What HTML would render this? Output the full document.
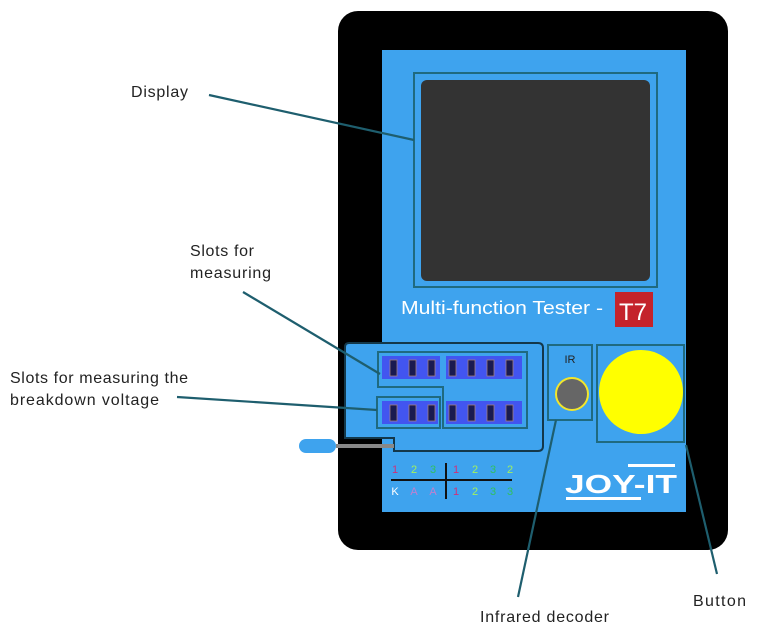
<!DOCTYPE html>
<html><head><meta charset="utf-8"><style>
html,body{margin:0;padding:0;background:#fff;}
svg{display:block;}
</style></head><body>
<svg width="768" height="630" viewBox="0 0 768 630" xmlns="http://www.w3.org/2000/svg" font-family="Liberation Sans, sans-serif">
<rect x="338" y="11" width="390" height="539" rx="20" fill="#000"/>
<rect x="382" y="50" width="304" height="462" fill="#3ea3ee"/>
<rect x="414" y="73" width="243" height="214" fill="none" stroke="#1f6a80" stroke-width="2"/>
<rect x="421" y="80" width="229" height="201" rx="6" fill="#333"/>
<text x="401" y="314" font-size="18" fill="#fff" textLength="202" lengthAdjust="spacingAndGlyphs">Multi-function Tester -</text>
<rect x="615" y="292" width="38" height="35" fill="#c4232b"/>
<text x="619" y="320" font-size="24" fill="#fff">T7</text>
<!-- slot panel -->
<path d="M349,343 H538 Q543,343 543,348 V446 Q543,451 538,451 H394 V438 H345 V347 Q345,343 349,343 Z" fill="#3ea3ee" stroke="#14384a" stroke-width="2"/>
<path d="M378,352 H527 V428 H443 V387 H378 Z" fill="none" stroke="#1f6a80" stroke-width="2"/>
<rect x="377" y="397" width="63" height="31" fill="none" stroke="#1f6a80" stroke-width="2"/>
<rect x="382" y="356" width="58" height="23" fill="#4255f0"/>
<rect x="446" y="356" width="76" height="23" fill="#4255f0"/>
<rect x="382" y="401" width="56" height="23" fill="#4255f0"/>
<rect x="446" y="401" width="76" height="23" fill="#4255f0"/>
<g fill="#1a1a50" stroke="#a08080" stroke-width="0.8">
<rect x="390" y="360" width="7" height="16"/><rect x="409" y="360" width="7" height="16"/><rect x="428" y="360" width="7" height="16"/>
<rect x="449" y="360" width="7" height="16"/><rect x="468" y="360" width="7" height="16"/><rect x="487" y="360" width="7" height="16"/><rect x="506" y="360" width="7" height="16"/>
<rect x="390" y="405" width="7" height="16"/><rect x="409" y="405" width="7" height="16"/><rect x="428" y="405" width="7" height="16"/>
<rect x="449" y="405" width="7" height="16"/><rect x="468" y="405" width="7" height="16"/><rect x="487" y="405" width="7" height="16"/><rect x="506" y="405" width="7" height="16"/>
</g>
<!-- wire -->
<rect x="299" y="439" width="37" height="14" rx="7" fill="#3ea3ee"/>
<rect x="336" y="444" width="58" height="4" fill="#888"/>
<!-- IR -->
<rect x="548" y="345" width="44" height="75" fill="none" stroke="#1f6a80" stroke-width="2"/>
<text x="570" y="363" font-size="11" fill="#222" text-anchor="middle">IR</text>
<circle cx="572" cy="394" r="16" fill="#666" stroke="#f2e62b" stroke-width="2"/>
<!-- button -->
<rect x="597" y="345" width="87" height="97" fill="none" stroke="#1f6a80" stroke-width="2"/>
<circle cx="641" cy="392" r="42" fill="#ffff00"/>
<!-- numbers -->
<line x1="391" y1="480" x2="512" y2="480" stroke="#111" stroke-width="2"/>
<line x1="446" y1="463" x2="446" y2="499" stroke="#111" stroke-width="2"/>
<g font-size="11" text-anchor="middle">
<text x="395" y="473" fill="#d0307a">1</text><text x="414" y="473" fill="#a0f060">2</text><text x="433" y="473" fill="#30c060">3</text>
<text x="456" y="473" fill="#d0307a">1</text><text x="475" y="473" fill="#a0f060">2</text><text x="493" y="473" fill="#30c060">3</text><text x="510" y="473" fill="#a0f060">2</text>
<text x="395" y="495" fill="#fff">K</text><text x="414" y="495" fill="#c080d0">A</text><text x="433" y="495" fill="#c080d0">A</text>
<text x="456" y="495" fill="#d0307a">1</text><text x="475" y="495" fill="#a0f060">2</text><text x="493" y="495" fill="#30c060">3</text><text x="510" y="495" fill="#30c060">3</text>
</g>
<!-- logo -->
<rect x="628" y="464" width="47" height="3" fill="#fff"/>
<text x="565" y="493" font-size="26" font-weight="bold" fill="#fff" textLength="112" lengthAdjust="spacingAndGlyphs">JOY-IT</text>
<rect x="566" y="497" width="75" height="3" fill="#fff"/>
<!-- leader lines -->
<g stroke="#1e5e6e" stroke-width="2.2" fill="none">
<line x1="209" y1="95" x2="414" y2="140"/>
<line x1="243" y1="292" x2="380" y2="374"/>
<line x1="177" y1="397" x2="377" y2="410"/>
<line x1="518" y1="597" x2="556" y2="420"/>
<line x1="717" y1="574" x2="686" y2="445"/>
</g>
<g font-size="16" fill="#222" lengthAdjust="spacingAndGlyphs">
<text x="131" y="97" textLength="57">Display</text>
<text x="190" y="256" textLength="64">Slots for</text>
<text x="190" y="278" textLength="81">measuring</text>
<text x="10" y="383" textLength="178">Slots for measuring the</text>
<text x="10" y="405" textLength="149">breakdown voltage</text>
<text x="480" y="622" textLength="129">Infrared decoder</text>
<text x="693" y="606" textLength="53">Button</text>
</g>
</svg>
</body></html>
